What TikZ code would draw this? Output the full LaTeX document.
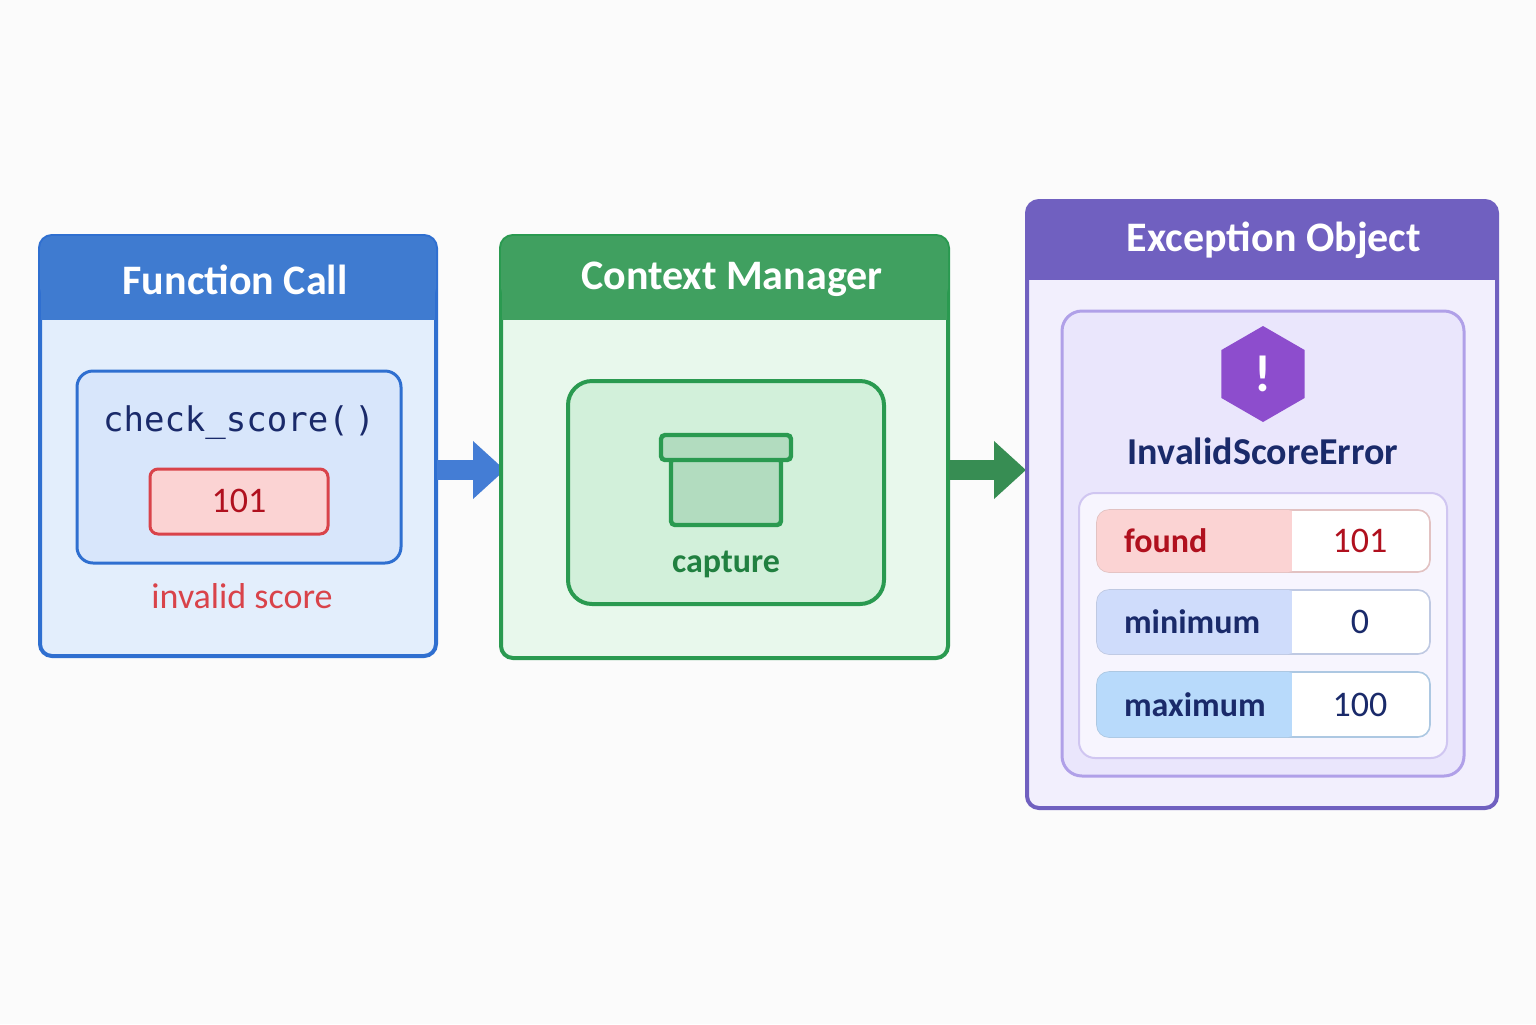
\documentclass[tikz,border=0pt]{standalone}
\usepackage{fontspec}
\setmainfont{Carlito}
\newfontfamily\mono{DejaVu Sans Mono}
\usetikzlibrary{shapes.geometric,arrows.meta}
\definecolor{bluehd}{HTML}{3F7BD0}\definecolor{bluebd}{HTML}{E3EEFC}\definecolor{bluel}{HTML}{2F6FD0}\definecolor{bluein}{HTML}{D8E6FB}
\definecolor{greenhd}{HTML}{40A060}\definecolor{greenbd}{HTML}{E8F8EC}\definecolor{greenl}{HTML}{2A9A50}\definecolor{greenin}{HTML}{D2F0DA}\definecolor{greendk}{HTML}{218040}
\definecolor{purphd}{HTML}{7060C0}\definecolor{purpbd}{HTML}{F2EFFD}\definecolor{purpl}{HTML}{B0A0E8}\definecolor{purpin}{HTML}{EAE6FC}
\definecolor{redf}{HTML}{FBD3D3}\definecolor{redl}{HTML}{D9434A}\definecolor{redt}{HTML}{B0101E}\definecolor{navy}{HTML}{1A2A6A}
\definecolor{minf}{HTML}{CFDCFB}\definecolor{maxf}{HTML}{B8DAFB}
\tikzset{x=0.5pt,y=-0.5pt,
 title/.style={text=white,font=\bfseries\fontsize{21}{24}\selectfont},
 lbl/.style={font=\bfseries\fontsize{17}{20}\selectfont},
 val/.style={font=\fontsize{18}{22}\selectfont}}
\begin{document}
\begin{tikzpicture}
\fill[white!97!gray] (0,0) rectangle (1536,1024);
\useasboundingbox (0,0) rectangle (1536,1024);
% box 1
\draw[bluel,line width=2pt,fill=bluebd,rounded corners=6pt] (40,236) rectangle (436,656);
\fill[bluehd,rounded corners=6pt] (40,236) rectangle (436,300);
\fill[bluehd] (41,280) rectangle (435,320);
\node[title] (t1) at (235,280) {Function Call};
\draw[bluel,line width=1.5pt,fill=bluein,rounded corners=8pt] (77,371) rectangle (401,563);
\node[font=\mono\fontsize{17}{20}\selectfont,text=navy] (cs) at (239,423) {check\_score(\,)};
\draw[redl,line width=1.5pt,fill=redf,rounded corners=4pt] (150,469) rectangle (328,534);
\node[val,text=redt] (v1) at (239,501) {101};
\node[val,text=redl] (inv) at (242,596) {invalid score};
% arrow 1
\coordinate (a1s) at (437,470); \coordinate (a1e) at (505,470);
\draw[bluel!90!white,line width=10pt,-{Triangle[length=16pt,width=28pt]}] (a1s) -- (a1e);
% box 2
\draw[greenl,line width=2pt,fill=greenbd,rounded corners=6pt] (501,236) rectangle (948,658);
\fill[greenhd,rounded corners=6pt] (501,236) rectangle (948,300);
\fill[greenhd] (502,280) rectangle (947,320);
\node[title] (t2) at (732,279) {Context Manager};
\draw[greenl,line width=2pt,fill=greenin,rounded corners=12pt] (568,381) rectangle (884,604);
\draw[greenl,line width=2.2pt,fill=greenin!50!greenl!60!white,rounded corners=2pt] (671,458) rectangle (781,525);
\draw[greenl,line width=2.2pt,fill=greenin!50!greenl!60!white,rounded corners=2pt] (661,435) rectangle (791,460);
\node[lbl,text=greendk] (cap) at (726,564) {capture};
% arrow 2
\coordinate (a2s) at (949,470); \coordinate (a2e) at (1026,470);
\draw[greendk!90!white,line width=10pt,-{Triangle[length=16pt,width=28pt]}] (a2s) -- (a2e);
% box 3
\draw[purphd,line width=2pt,fill=purpbd,rounded corners=6pt] (1027,201) rectangle (1497,808);
\fill[purphd,rounded corners=6pt] (1027,201) rectangle (1497,260);
\fill[purphd] (1028,245) rectangle (1496,280);
\node[title] (t3) at (1274,240) {Exception Object};
\draw[purpl,line width=1.5pt,fill=purpin,rounded corners=10pt] (1062,311) rectangle (1464,776);
\node[regular polygon,regular polygon sides=6,shape border rotate=30,fill=purphd!80!magenta,minimum size=48pt,inner sep=0pt] (hex) at (1263,374) {};
\node[text=white,font=\bfseries\fontsize{26}{26}\selectfont] at (hex) {!};
\node[font=\bfseries\fontsize{19}{22}\selectfont,text=navy] (ise) at (1263,451) {InvalidScoreError};
\draw[purpl!60!white,line width=1pt,fill=white!60!purpin,rounded corners=8pt] (1079,493) rectangle (1447,758);
% rows
\foreach \ya/\yb/\fc/\tc/\k/\v in {510/572/redf/redt/found/101, 590/654/minf/navy/minimum/0, 672/737/maxf/navy/maximum/100}{
  \draw[\fc!80!gray,line width=0.8pt,fill=white,rounded corners=6pt] (1097,\ya) rectangle (1430,\yb);
  \fill[\fc,rounded corners=6pt] (1097,\ya) rectangle (1300,\yb);
  \fill[white] (1292,\ya+1) rectangle (1310,\yb-1);
  \node[lbl,text=\tc,anchor=west] at (1117,{(\ya+\yb)/2}) {\k};
  \node[val,text=\tc] at (1360,{(\ya+\yb)/2}) {\v};
}
\end{tikzpicture}
\end{document}
